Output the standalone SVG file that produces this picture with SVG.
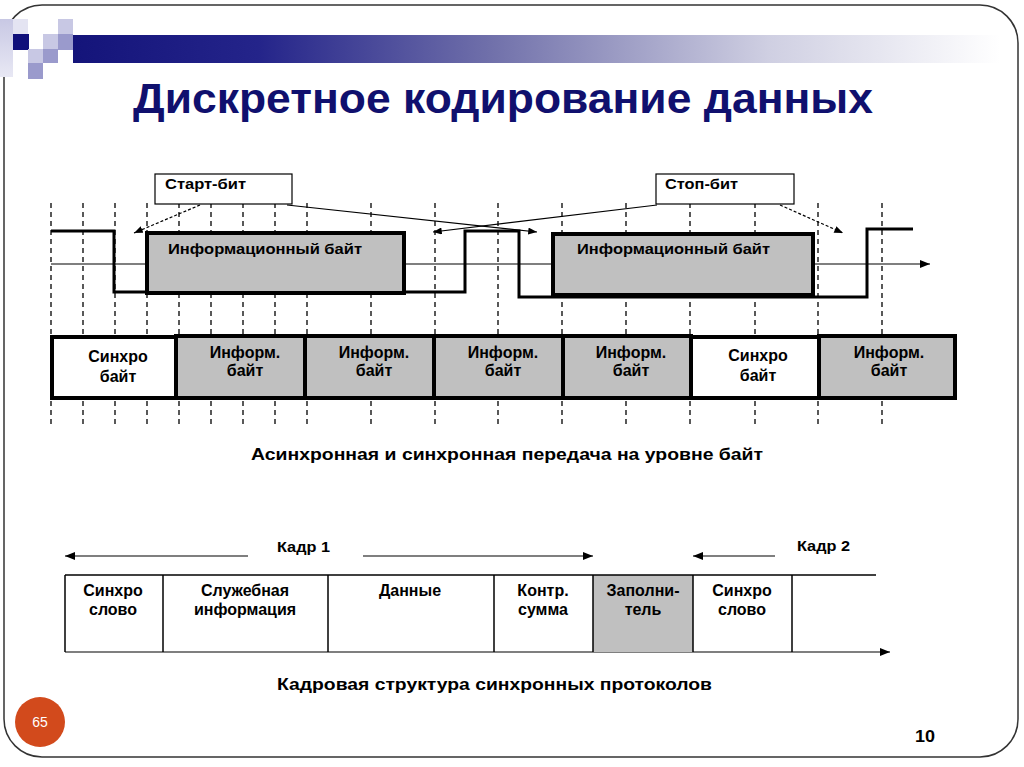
<svg xmlns="http://www.w3.org/2000/svg" width="1024" height="767" viewBox="0 0 1024 767">
<defs>
<linearGradient id="bar" x1="73" y1="0" x2="1000" y2="0" gradientUnits="userSpaceOnUse">
<stop offset="0" stop-color="#14147a"/>
<stop offset="0.2" stop-color="#24248a"/>
<stop offset="0.45" stop-color="#7070aa"/>
<stop offset="0.75" stop-color="#cfcfe2"/>
<stop offset="1" stop-color="#ffffff"/>
</linearGradient>
<linearGradient id="strip" x1="0" y1="0" x2="0" y2="1">
<stop offset="0" stop-color="#c8c8e4"/>
<stop offset="1" stop-color="#e8e8f4"/>
</linearGradient>
<marker id="ah" viewBox="0 0 10 8" refX="10" refY="4" markerWidth="10" markerHeight="8" markerUnits="userSpaceOnUse" orient="auto">
<path d="M0,0 L10,4 L0,8 Z" fill="#000"/>
</marker>
<marker id="ahs" viewBox="0 0 10 8" refX="10" refY="4" markerWidth="9" markerHeight="7" markerUnits="userSpaceOnUse" orient="auto">
<path d="M0,0 L10,4 L0,8 Z" fill="#000"/>
</marker>
</defs>
<style>
.t{font-family:"Liberation Sans",Arial,sans-serif;font-weight:bold;fill:#000}
.c{text-anchor:middle}
.grid line{stroke:#000;stroke-width:1.3;stroke-dasharray:5,4}
.sig{fill:none;stroke:#000;stroke-width:3}
.ibox{fill:#c0c0c0;stroke:#000;stroke-width:4}
.cellg{fill:#c0c0c0;stroke:#000;stroke-width:4}
.cellw{fill:#fff;stroke:#000;stroke-width:4}
.thin{fill:none;stroke:#000;stroke-width:1.2}
.fr{fill:none;stroke:#000;stroke-width:1.5}
</style>
<rect width="1024" height="767" fill="#fff"/>
<rect id="slide-border" x="4" y="5" width="1014" height="752" rx="38" fill="none" stroke="#333" stroke-width="1.5"/>
<g id="header-decoration">
<rect x="0" y="19" width="13" height="58" fill="url(#strip)"/>
<rect x="13" y="19" width="15" height="15" fill="#e4e4f2"/>
<rect x="13" y="34" width="16" height="16" fill="#10107a"/>
<rect x="43" y="34" width="15" height="15" fill="#c8c8e4"/>
<rect x="58" y="19" width="15" height="15" fill="#c8c8e4"/>
<rect x="58" y="34" width="15" height="16" fill="#9a9acc"/>
<rect x="28" y="49" width="15" height="14" fill="#c8c8e4"/>
<rect x="43" y="49" width="15" height="14" fill="#9a9acc"/>
<rect x="28" y="63" width="15" height="16" fill="#9a9acc"/>
<rect x="73" y="35" width="927" height="28" fill="url(#bar)"/>
</g>
<text id="title" x="133" y="113" font-family="Liberation Sans, Arial, sans-serif" font-weight="bold" font-size="42" fill="#10106e" textLength="740" lengthAdjust="spacingAndGlyphs">Дискретное кодирование данных</text>
<g class="grid" id="clock-grid">
<line x1="51" y1="203" x2="51" y2="428"/>
<line x1="83" y1="203" x2="83" y2="428"/>
<line x1="115" y1="203" x2="115" y2="428"/>
<line x1="147" y1="203" x2="147" y2="428"/>
<line x1="179" y1="203" x2="179" y2="428"/>
<line x1="211" y1="203" x2="211" y2="428"/>
<line x1="243" y1="203" x2="243" y2="428"/>
<line x1="275" y1="203" x2="275" y2="428"/>
<line x1="307" y1="203" x2="307" y2="428"/>
<line x1="371" y1="203" x2="371" y2="428"/>
<line x1="435" y1="203" x2="435" y2="428"/>
<line x1="498" y1="203" x2="498" y2="428"/>
<line x1="562" y1="203" x2="562" y2="428"/>
<line x1="626" y1="203" x2="626" y2="428"/>
<line x1="690" y1="203" x2="690" y2="428"/>
<line x1="755" y1="203" x2="755" y2="428"/>
<line x1="818" y1="203" x2="818" y2="428"/>
<line x1="882" y1="203" x2="882" y2="428"/>
</g>
<g id="signal">
<line x1="51" y1="264" x2="930" y2="264" class="thin" marker-end="url(#ah)"/>
<path class="sig" d="M51,231 H114 V292 H465 V231 H519 V297 H867 V229 H913"/>
</g>
<g id="info-byte-1">
<rect class="ibox" x="147" y="233" width="257" height="60"/>
<text class="t" x="168" y="254" font-size="15" textLength="194" lengthAdjust="spacingAndGlyphs">Информационный байт</text>
</g>
<g id="info-byte-2">
<rect class="ibox" x="553" y="234" width="260" height="61"/>
<text class="t" x="577" y="254" font-size="15" textLength="193" lengthAdjust="spacingAndGlyphs">Информационный байт</text>
</g>
<g id="start-bit">
<rect x="155" y="174" width="137" height="30" fill="#fff" stroke="#000" stroke-width="1.2"/>
<text class="t" x="165" y="189" font-size="15.5" textLength="81" lengthAdjust="spacingAndGlyphs">Старт-бит</text>
</g>
<g id="stop-bit">
<rect x="656" y="174" width="138" height="30" fill="#fff" stroke="#000" stroke-width="1.2"/>
<text class="t" x="665" y="189" font-size="15.5" textLength="73" lengthAdjust="spacingAndGlyphs">Стоп-бит</text>
</g>
<g id="connectors">
<line class="thin" x1="200" y1="205" x2="134" y2="233" stroke-dasharray="3,2" marker-end="url(#ahs)"/>
<line class="thin" x1="287" y1="205" x2="537" y2="232" marker-end="url(#ahs)"/>
<line class="thin" x1="657" y1="205" x2="433" y2="232" marker-end="url(#ahs)"/>
<line class="thin" x1="780" y1="205" x2="843" y2="233" stroke-dasharray="3,2" marker-end="url(#ahs)"/>
<line class="thin" x1="248" y1="556" x2="65" y2="556" stroke-width="1.5" marker-end="url(#ah)"/>
<line class="thin" x1="363" y1="556" x2="593" y2="556" stroke-width="1.5" marker-end="url(#ah)"/>
<line class="thin" x1="775" y1="556" x2="693" y2="556" stroke-width="1.5" marker-end="url(#ah)"/>
<line class="thin" x1="65" y1="652" x2="890" y2="652" stroke-width="1.5" marker-end="url(#ah)"/>
</g>
<g id="byte-row">
<g id="b1"><rect class="cellw" x="52" y="337" width="124" height="61"/><text class="t c" x="118" y="362" font-size="16">Синхро</text><text class="t c" x="118" y="382" font-size="16">байт</text></g>
<g id="b2"><rect class="cellg" x="176" y="336" width="129" height="62"/><text class="t c" x="245" y="358" font-size="16">Информ.</text><text class="t c" x="245" y="376" font-size="16">байт</text></g>
<g id="b3"><rect class="cellg" x="305" y="336" width="129" height="62"/><text class="t c" x="374" y="358" font-size="16">Информ.</text><text class="t c" x="374" y="376" font-size="16">байт</text></g>
<g id="b4"><rect class="cellg" x="434" y="336" width="129" height="62"/><text class="t c" x="503" y="358" font-size="16">Информ.</text><text class="t c" x="503" y="376" font-size="16">байт</text></g>
<g id="b5"><rect class="cellg" x="563" y="336" width="128" height="62"/><text class="t c" x="631" y="358" font-size="16">Информ.</text><text class="t c" x="631" y="376" font-size="16">байт</text></g>
<g id="b6"><rect class="cellw" x="691" y="337" width="128" height="61"/><text class="t c" x="758" y="361" font-size="16">Синхро</text><text class="t c" x="758" y="381" font-size="16">байт</text></g>
<g id="b7"><rect class="cellg" x="819" y="336" width="136" height="62"/><text class="t c" x="889" y="358" font-size="16">Информ.</text><text class="t c" x="889" y="376" font-size="16">байт</text></g>
</g>
<text id="caption-1" class="t" x="251" y="460" font-size="16.5" fill="#111" textLength="512" lengthAdjust="spacingAndGlyphs">Асинхронная и синхронная передача на уровне байт</text>
<text id="kadr1" class="t" x="277" y="552" font-size="15.5" textLength="53" lengthAdjust="spacingAndGlyphs">Кадр 1</text>
<text id="kadr2" class="t" x="797" y="551" font-size="15.5" textLength="53" lengthAdjust="spacingAndGlyphs">Кадр 2</text>
<g id="frame">
<rect x="593" y="575" width="100" height="77" fill="#c0c0c0"/>
<line class="fr" x1="65" y1="575" x2="876" y2="575"/>
<line class="fr" x1="65" y1="575" x2="65" y2="652"/>
<line class="fr" x1="163" y1="575" x2="163" y2="652"/>
<line class="fr" x1="328" y1="575" x2="328" y2="652"/>
<line class="fr" x1="494" y1="575" x2="494" y2="652"/>
<line class="fr" x1="593" y1="575" x2="593" y2="652"/>
<line class="fr" x1="693" y1="575" x2="693" y2="652"/>
<line class="fr" x1="792" y1="575" x2="792" y2="652"/>
<g id="f1"><text class="t c" x="113" y="596" font-size="16">Синхро</text><text class="t c" x="113" y="615" font-size="16">слово</text></g>
<g id="f2"><text class="t c" x="245" y="596" font-size="16">Служебная</text><text class="t c" x="245" y="615" font-size="16">информация</text></g>
<g id="f3"><text class="t c" x="410" y="596" font-size="16">Данные</text></g>
<g id="f4"><text class="t c" x="543" y="596" font-size="16">Контр.</text><text class="t c" x="543" y="615" font-size="16">сумма</text></g>
<g id="f5"><text class="t c" x="643" y="596" font-size="16">Заполни-</text><text class="t c" x="643" y="615" font-size="16">тель</text></g>
<g id="f6"><text class="t c" x="742" y="596" font-size="16">Синхро</text><text class="t c" x="742" y="615" font-size="16">слово</text></g>
</g>
<text id="caption-2" class="t" x="277" y="690" font-size="16.5" fill="#111" textLength="435" lengthAdjust="spacingAndGlyphs">Кадровая структура синхронных протоколов</text>
<g id="slide-number">
<circle cx="40" cy="722" r="25" fill="#d24a1c"/>
<text x="40" y="727" font-family="Liberation Sans, Arial, sans-serif" font-size="14" fill="#fff" text-anchor="middle">65</text>
</g>
<text id="page-10" class="t" x="915" y="742" font-size="16" textLength="20" lengthAdjust="spacingAndGlyphs">10</text>
</svg>
